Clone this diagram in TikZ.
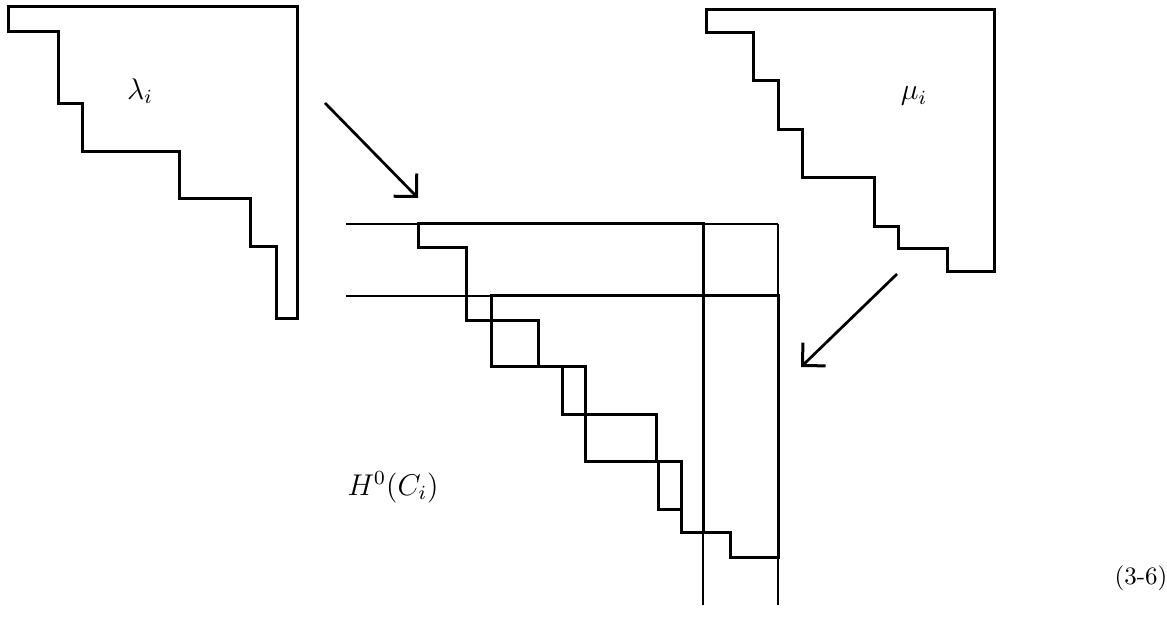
\documentclass[tikz,border=0pt]{standalone}
\usetikzlibrary{arrows.meta}
\begin{document}
\begin{tikzpicture}[x=0.4pt,y=-0.4pt,
  shape line/.style={line width=1.2pt, line join=miter, line cap=rect},
  guide line/.style={line width=0.6pt},
  arr/.style={line width=1.1pt, -{Straight Barb[length=6.5pt,width=13pt,line width=1.2pt]}},
  lbl/.style={inner sep=0pt, font=\large}]
\useasboundingbox (0,0) rectangle (1167,618);

% lambda diagram
\draw[shape line] (8,7) -- (297,7) -- (297,319) -- (276,319) -- (276,247) -- (250,247)
  -- (250,199) -- (179,199) -- (179,152) -- (82,152) -- (82,104) -- (58,104)
  -- (58,32) -- (8,32) -- cycle;
\node[lbl] (lam) at (140,91) {$\lambda_i$};

% mu diagram
\draw[shape line] (706,10) -- (994,10) -- (994,272) -- (947,272) -- (947,249) -- (898,249)
  -- (898,227) -- (874,227) -- (874,178) -- (802,178) -- (802,130) -- (778,130)
  -- (778,81) -- (753,81) -- (753,33) -- (706,33) -- cycle;
\node[lbl] (mu) at (914,96) {$\mu_i$};

% guide lines of the combined picture
\draw[guide line] (346,224) -- (778,224);
\draw[guide line] (346,296) -- (778,296);
\draw[guide line] (703,224) -- (703,605);
\draw[guide line] (778,224) -- (778,605);

% lambda placed
\draw[shape line] (418,224) -- (703,224) -- (703,533) -- (681,533) -- (681,462) -- (656,462)
  -- (656,415) -- (585,415) -- (585,367) -- (538,367) -- (538,321) -- (466,321)
  -- (466,248) -- (418,248) -- cycle;
% mu placed
\draw[shape line] (491,296) -- (778,296) -- (778,558) -- (730,558) -- (730,533) -- (681,533)
  -- (681,510) -- (658,510) -- (658,462) -- (585,462) -- (585,415) -- (562,415)
  -- (562,367) -- (491,367) -- cycle;

\node[lbl] (h) at (393,487) {$H^0(C_i)$};
\node[inner sep=0pt] (eq) at (1141,578) {(3-6)};

% arrows
\coordinate (a1s) at (325,103);
\coordinate (a1e) at (418,198);
\coordinate (a2s) at (897,274);
\coordinate (a2e) at (801,367);
\draw[arr] (a1s) -- (a1e);
\draw[arr] (a2s) -- (a2e);
\end{tikzpicture}
\end{document}
